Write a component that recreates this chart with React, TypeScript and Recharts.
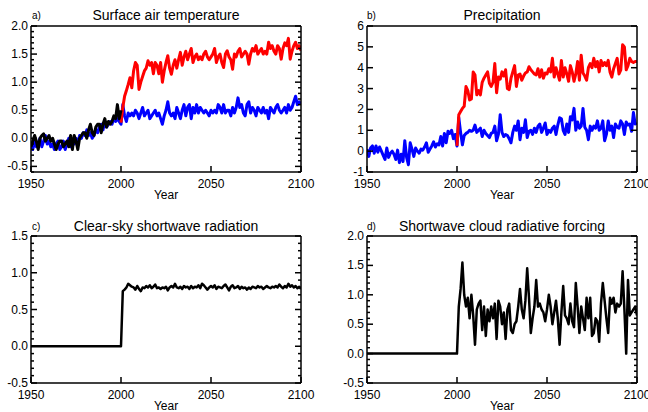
import React from 'react';
import { LineChart, Line, XAxis, YAxis } from 'recharts';

const FONT = "'Liberation Sans', Arial, Helvetica, sans-serif";

const yearTicks = [1950, 2000, 2050, 2100];

// a) Surface air temperature, 1950-2100 (blue), 1950-2000 (black), 2000-2100 (red)
const tempBlue = [
  -0.10, -0.20, -0.05, -0.15, -0.10, 0.00, -0.15, -0.05, 0.05, -0.10,
  -0.05, -0.15, -0.10, -0.20, -0.10, -0.05, -0.20, -0.15, -0.05, -0.20,
  -0.10, 0.00, -0.15, -0.05, -0.10, 0.00, -0.10, 0.05, 0.00, 0.10,
  0.05, 0.15, 0.05, 0.10, 0.00, 0.05, 0.15, 0.10, 0.20, 0.25,
  0.15, 0.30, 0.20, 0.25, 0.30, 0.25, 0.35, 0.30, 0.35, 0.30,
  0.25, 0.60, 0.40, 0.30, 0.45, 0.40, 0.45, 0.40, 0.50, 0.45,
  0.35, 0.45, 0.55, 0.40, 0.45, 0.50, 0.35, 0.40, 0.45, 0.50,
  0.40, 0.45, 0.35, 0.25, 0.40, 0.50, 0.65, 0.45, 0.40, 0.45,
  0.35, 0.55, 0.45, 0.35, 0.50, 0.60, 0.40, 0.55, 0.60, 0.35,
  0.55, 0.45, 0.60, 0.45, 0.55, 0.50, 0.45, 0.50, 0.45, 0.40,
  0.50, 0.45, 0.50, 0.45, 0.60, 0.55, 0.45, 0.60, 0.45, 0.50,
  0.50, 0.40, 0.55, 0.45, 0.55, 0.72, 0.55, 0.60, 0.45, 0.40,
  0.60, 0.65, 0.45, 0.55, 0.50, 0.40, 0.55, 0.50, 0.45, 0.55,
  0.45, 0.50, 0.35, 0.55, 0.50, 0.45, 0.55, 0.60, 0.50, 0.45,
  0.50, 0.55, 0.45, 0.60, 0.50, 0.55, 0.65, 0.75, 0.60, 0.65,
  0.60,
];
const tempObs = [
  -0.15, -0.05, 0.05, -0.05, -0.20, 0.00, 0.05, 0.08, -0.05, 0.00,
  0.05, -0.05, 0.00, -0.10, -0.20, -0.10, -0.05, -0.05, -0.15, -0.10,
  -0.05, -0.15, 0.05, -0.20, 0.05, -0.05, -0.20, 0.00, 0.05, 0.10,
  0.10, 0.00, 0.15, 0.25, 0.10, 0.05, 0.20, 0.25, 0.25, 0.10,
  0.25, 0.35, 0.20, 0.30, 0.25, 0.30, 0.40, 0.35, 0.60, 0.35,
  0.50,
];
const tempRed = [
  0.28, 0.55, 0.75, 0.85, 0.96, 1.08, 0.90, 1.20, 1.35, 1.30,
  0.87, 1.00, 1.10, 1.20, 1.25, 1.38, 1.30, 1.35, 1.15, 1.35,
  1.30, 1.15, 1.35, 1.00, 1.20, 1.35, 1.47, 1.25, 1.14, 1.30,
  1.40, 1.25, 1.40, 1.53, 1.30, 1.45, 1.55, 1.40, 1.50, 1.60,
  1.35, 1.45, 1.50, 1.40, 1.45, 1.40, 1.50, 1.55, 1.45, 1.40,
  1.45, 1.50, 1.60, 1.35, 1.45, 1.50, 1.35, 1.26, 1.50, 1.56,
  1.45, 1.40, 1.23, 1.50, 1.45, 1.55, 1.60, 1.45, 1.50, 1.55,
  1.50, 1.32, 1.50, 1.60, 1.55, 1.65, 1.50, 1.55, 1.60, 1.50,
  1.55, 1.50, 1.71, 1.60, 1.65, 1.55, 1.50, 1.65, 1.60, 1.41,
  1.60, 1.70, 1.65, 1.78, 1.41, 1.55, 1.65, 1.71, 1.60, 1.65,
  1.56,
];
const tempTicks = [-0.5, 0.0, 0.5, 1.0, 1.5, 2.0];

// b) Precipitation
const precipBlue = [
  0.10, -0.25, 0.15, 0.25, -0.10, 0.25, -0.05, 0.20, 0.00, -0.20,
  -0.40, 0.15, -0.30, -0.10, 0.00, -0.15, -0.40, 0.05, -0.55, -0.15,
  -0.50, 0.50, -0.30, -0.65, 0.40, 0.10, -0.25, 0.15, 0.00, -0.10,
  0.10, 0.05, 0.20, 0.40, -0.05, 0.10, 0.25, 0.45, 0.20, 0.35,
  0.30, 0.70, 0.25, 0.85, 0.40, 0.95, 0.85, 1.00, 0.60, 0.80,
  0.25, 1.60, 0.90, 0.30, 0.75, 0.85, 0.90, 1.00, 0.95, 1.00,
  1.25, 0.90, 1.00, 1.10, 0.70, 1.00, 0.85, 0.75, 0.65, 0.85,
  0.90, 1.20, 0.50, 0.80, 1.75, 0.90, 0.70, 0.80, 0.75, 0.60,
  0.40, 0.90, 1.20, 1.00, 1.45, 0.55, 1.10, 0.90, 1.50, 0.65,
  0.95, 1.00, 0.80, 1.10, 0.90, 1.20, 1.30, 0.90, 1.10, 1.35,
  0.80, 1.00, 0.90, 1.10, 1.20, 0.80, 1.25, 1.60, 1.55, 1.00,
  0.80, 1.30, 0.90, 1.65, 1.50, 2.05, 1.00, 1.40, 1.10, 1.20,
  2.05, 1.15, 1.00, 0.55, 1.20, 1.00, 1.20, 1.10, 1.45, 1.00,
  1.10, 1.45, 0.50, 0.80, 1.45, 1.00, 1.20, 0.65, 1.30, 1.15,
  1.10, 1.45, 1.30, 0.80, 1.40, 1.25, 1.30, 0.95, 1.85, 1.30,
  1.35,
];
const precipRed = [
  0.25, 1.75, 1.90, 2.05, 2.15, 3.10, 2.90, 2.45, 2.50, 3.80,
  3.65, 2.70, 2.90, 2.70, 3.30, 3.50, 3.65, 3.80, 3.25, 3.10,
  3.30, 4.20, 2.80, 3.55, 3.45, 3.80, 3.60, 3.90, 3.00, 2.95,
  3.50, 3.80, 4.10, 3.10, 3.65, 3.70, 3.40, 3.60, 3.75, 3.80,
  4.05, 3.90, 3.80, 3.70, 3.65, 3.95, 3.55, 3.90, 3.50, 3.75,
  3.70, 3.95, 3.80, 4.45, 3.55, 4.00, 3.70, 3.40, 4.35, 3.55,
  4.00, 3.70, 3.35, 4.10, 3.80, 3.35, 3.70, 4.30, 3.40, 4.60,
  3.75, 3.60, 3.40, 4.00, 4.20, 4.00, 4.45, 4.05, 4.30, 3.80,
  4.35, 4.10, 4.25, 4.10, 4.35, 3.80, 3.55, 3.95, 4.20, 4.45,
  3.70, 3.90, 5.10, 5.00, 3.90, 4.10, 4.45, 4.30, 4.25, 4.30,
  4.30,
];
const precipTicks = [-1, 0, 1, 2, 3, 4, 5, 6];

// c) Clear-sky shortwave radiation
const clearSky = [
  0, 0, 0, 0, 0, 0, 0, 0, 0, 0,
  0, 0, 0, 0, 0, 0, 0, 0, 0, 0,
  0, 0, 0, 0, 0, 0, 0, 0, 0, 0,
  0, 0, 0, 0, 0, 0, 0, 0, 0, 0,
  0, 0, 0, 0, 0, 0, 0, 0, 0, 0,
  0, 0.75, 0.77, 0.80, 0.85, 0.83, 0.81, 0.80, 0.77, 0.82,
  0.78, 0.75, 0.80, 0.79, 0.82, 0.80, 0.83, 0.79, 0.81, 0.84,
  0.79, 0.80, 0.78, 0.80, 0.79, 0.81, 0.76, 0.80, 0.82, 0.80,
  0.85, 0.80, 0.79, 0.81, 0.78, 0.82, 0.80, 0.81, 0.78, 0.82,
  0.79, 0.81, 0.80, 0.83, 0.79, 0.85, 0.83, 0.80, 0.77, 0.80,
  0.82, 0.80, 0.83, 0.78, 0.81, 0.80, 0.79, 0.82, 0.84, 0.80,
  0.76, 0.81, 0.83, 0.79, 0.80, 0.82, 0.78, 0.81, 0.79, 0.80,
  0.77, 0.80, 0.78, 0.81, 0.80, 0.79, 0.82, 0.80, 0.81, 0.78,
  0.80, 0.82, 0.80, 0.79, 0.81, 0.80, 0.82, 0.80, 0.84, 0.81,
  0.79, 0.82, 0.80, 0.85, 0.81, 0.83, 0.80, 0.82, 0.79, 0.81,
  0.78,
];
const clearTicks = [-0.5, 0.0, 0.5, 1.0, 1.5];

// d) Shortwave cloud radiative forcing
const cloudForcing = [
  0, 0, 0, 0, 0, 0, 0, 0, 0, 0,
  0, 0, 0, 0, 0, 0, 0, 0, 0, 0,
  0, 0, 0, 0, 0, 0, 0, 0, 0, 0,
  0, 0, 0, 0, 0, 0, 0, 0, 0, 0,
  0, 0, 0, 0, 0, 0, 0, 0, 0, 0,
  0, 0.80, 1.10, 1.55, 1.00, 0.80, 0.95, 0.60, 1.00, 0.65,
  0.15, 0.75, 0.85, 0.90, 0.40, 0.80, 0.30, 0.75, 0.55, 0.80,
  0.60, 0.85, 0.25, 0.90, 0.80, 0.50, 0.70, 0.25, 0.75, 0.85,
  0.40, 0.35, 0.50, 0.55, 0.80, 1.10, 0.75, 0.60, 0.90, 1.45,
  0.95, 0.35, 0.60, 0.80, 1.25, 0.80, 0.85, 0.75, 0.70, 0.55,
  0.75, 1.00, 0.80, 0.50, 0.70, 0.90, 0.60, 0.15, 0.70, 1.15,
  0.65, 0.60, 0.50, 0.85, 0.55, 0.45, 1.20, 0.80, 0.35, 0.80,
  0.60, 0.40, 0.95, 0.60, 0.95, 0.30, 0.35, 0.60, 0.55, 0.20,
  0.85, 1.20, 0.90, 0.60, 0.35, 0.95, 0.85, 0.95, 0.70, 0.85,
  0.80, 0.85, 1.40, 0.75, 0.00, 1.25, 0.65, 0.70, 0.75, 0.80,
  0.65,
];
const cloudTicks = [-0.5, 0.0, 0.5, 1.0, 1.5, 2.0];

const years = tempBlue.map((_, i) => 1950 + i);

const rowsA = years.map((year, i) => ({
  year,
  blue: tempBlue[i],
  black: i < tempObs.length ? tempObs[i] : undefined,
  red: i >= 50 ? tempRed[i - 50] : undefined,
}));
const rowsB = years.map((year, i) => ({
  year,
  blue: precipBlue[i],
  red: i >= 50 ? precipRed[i - 50] : undefined,
}));
const rowsC = years.map((year, i) => ({ year, black: clearSky[i] }));
const rowsD = years.map((year, i) => ({ year, black: cloudForcing[i] }));

const steps = (lo: number, hi: number, step: number) => {
  const out: number[] = [];
  for (let v = lo; v <= hi + 1e-9; v += step) out.push(Math.round(v * 100) / 100);
  return out;
};

const isMajor = (v: number, majors: number[]) => majors.some((m) => Math.abs(m - v) < 1e-6);

function LeftTick(props: any) {
  const { x, y, payload, majors, fmt } = props;
  const major = isMajor(payload.value, majors);
  return (
    <g>
      <line x1={x + 3} x2={x + 3 + (major ? 6 : 3)} y1={y} y2={y} stroke="#000" strokeWidth={1.5} />
      {major && (
        <text x={x} y={y} dy={4} textAnchor="end" fontSize={12} fill="#000" fontFamily={FONT}>
          {fmt(payload.value)}
        </text>
      )}
    </g>
  );
}

function RightTick(props: any) {
  const { x, y, payload, majors } = props;
  const major = isMajor(payload.value, majors);
  return <line x1={x} x2={x - (major ? 6 : 3)} y1={y} y2={y} stroke="#000" strokeWidth={1.5} />;
}

interface Series { key: string; color: string }

interface PanelProps {
  left: number;
  top: number;
  width: number;
  height: number;
  box: { left: number; right: number; top: number; bottom: number };
  domain: [number, number];
  majors: number[];
  minorStep?: number;
  fmt: (v: number) => string;
  rows: any[];
  series: Series[];
  lineWidth: number;
}

function Panel({ left, top, width, height, box, domain, majors, minorStep, fmt, rows, series, lineWidth }: PanelProps) {
  const yTicks = minorStep ? steps(domain[0], domain[1], minorStep) : majors;
  const axisLine = { stroke: '#000', strokeWidth: 1.5 };
  return (
    <div style={{ position: 'absolute', left, top }}>
      <LineChart
        width={width}
        height={height}
        data={rows}
        margin={{ top: box.top - 1, right: width - box.right - 1, bottom: 0, left: 0 }}
      >
        <XAxis
          dataKey="year"
          type="number"
          domain={[1950, 2100]}
          ticks={yearTicks}
          interval={0}
          allowDataOverflow
          height={height - box.bottom}
          tickSize={-6}
          tickMargin={13}
          axisLine={axisLine}
          tickLine={{ stroke: '#000', strokeWidth: 1.5 }}
          tick={{ fontSize: 12, fill: '#000', fontFamily: FONT }}
        />
        <XAxis
          xAxisId="top"
          orientation="top"
          dataKey="year"
          type="number"
          domain={[1950, 2100]}
          ticks={yearTicks}
          interval={0}
          allowDataOverflow
          height={1}
          tickSize={-6}
          axisLine={axisLine}
          tickLine={{ stroke: '#000', strokeWidth: 1.5 }}
          tick={false}
        />
        <YAxis
          type="number"
          domain={domain}
          ticks={yTicks}
          interval={0}
          allowDataOverflow
          width={box.left}
          tickSize={0}
          tickMargin={3}
          tickLine={false}
          axisLine={axisLine}
          tick={(p: any) => <LeftTick {...p} majors={majors} fmt={fmt} />}
        />
        <YAxis
          yAxisId="right"
          orientation="right"
          type="number"
          domain={domain}
          ticks={yTicks}
          interval={0}
          allowDataOverflow
          width={1}
          tickSize={0}
          tickMargin={0}
          tickLine={false}
          axisLine={axisLine}
          tick={(p: any) => <RightTick {...p} majors={majors} />}
        />
        {/* invisible series so the top and right frame axes are drawn */}
        <Line
          xAxisId="top"
          yAxisId="right"
          dataKey={series[0].key}
          stroke="none"
          strokeWidth={0}
          dot={false}
          activeDot={false}
          isAnimationActive={false}
        />
        {series.map((s) => (
          <Line
            key={s.key}
            dataKey={s.key}
            stroke={s.color}
            strokeWidth={lineWidth}
            dot={false}
            activeDot={false}
            isAnimationActive={false}
            strokeLinejoin="round"
          />
        ))}
      </LineChart>
    </div>
  );
}

const oneDecimal = (v: number) => v.toFixed(1);
const integer = (v: number) => String(Math.round(v));

const titles = [
  { tag: 'a)', text: 'Surface air temperature', tagX: 32, cx: 166, base: 20 },
  { tag: 'b)', text: 'Precipitation', tagX: 367, cx: 502, base: 20 },
  { tag: 'c)', text: 'Clear-sky shortwave radiation', tagX: 32, cx: 166, base: 231 },
  { tag: 'd)', text: 'Shortwave cloud radiative forcing', tagX: 367, cx: 502, base: 231 },
];
const yearLabels = [
  { cx: 166, base: 199 },
  { cx: 502, base: 199 },
  { cx: 166, base: 410 },
  { cx: 502, base: 410 },
];

export default function App() {
  return (
    <div
      style={{
        position: 'fixed',
        left: 0,
        top: 0,
        width: 648,
        height: 412,
        background: '#fff',
        fontFamily: FONT,
        overflow: 'hidden',
      }}
    >
      <Panel
        left={0} top={0} width={320} height={206}
        box={{ left: 31, right: 301, top: 26, bottom: 172 }}
        domain={[-0.6, 2.0]} majors={tempTicks} minorStep={0.1} fmt={oneDecimal}
        rows={rowsA}
        series={[{ key: 'blue', color: '#0000ff' }, { key: 'red', color: '#ff0000' }, { key: 'black', color: '#000000' }]}
        lineWidth={3}
      />
      <Panel
        left={320} top={0} width={328} height={206}
        box={{ left: 47, right: 317, top: 26, bottom: 172 }}
        domain={[-1, 6]} majors={precipTicks} fmt={integer}
        rows={rowsB}
        series={[{ key: 'blue', color: '#0000ff' }, { key: 'red', color: '#ff0000' }]}
        lineWidth={3}
      />
      <Panel
        left={0} top={206} width={320} height={206}
        box={{ left: 31, right: 301, top: 30, bottom: 177 }}
        domain={[-0.5, 1.5]} majors={clearTicks} minorStep={0.1} fmt={oneDecimal}
        rows={rowsC}
        series={[{ key: 'black', color: '#000000' }]}
        lineWidth={2.5}
      />
      <Panel
        left={320} top={206} width={328} height={206}
        box={{ left: 47, right: 317, top: 30, bottom: 177 }}
        domain={[-0.5, 2.0]} majors={cloudTicks} minorStep={0.1} fmt={oneDecimal}
        rows={rowsD}
        series={[{ key: 'black', color: '#000000' }]}
        lineWidth={2.5}
      />
      <svg width={648} height={412} style={{ position: 'absolute', left: 0, top: 0, pointerEvents: 'none' }}>
        {titles.map((t) => (
          <g key={t.tag}>
            <text x={t.tagX} y={t.base - 1} fontSize={10} fill="#000" fontFamily={FONT}>{t.tag}</text>
            <text x={t.cx} y={t.base} fontSize={14} fill="#000" textAnchor="middle" fontFamily={FONT}>{t.text}</text>
          </g>
        ))}
        {yearLabels.map((l, i) => (
          <text key={i} x={l.cx} y={l.base} fontSize={12} fill="#000" textAnchor="middle" fontFamily={FONT}>Year</text>
        ))}
      </svg>
    </div>
  );
}
